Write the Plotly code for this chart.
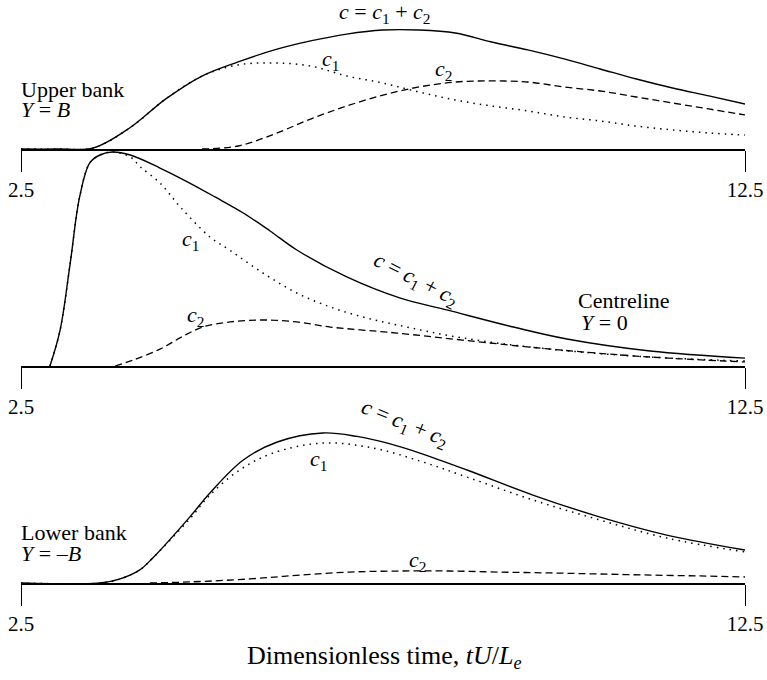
import plotly.graph_objects as go

# ---------------- data (relative concentration, centreline peak = 1) ----------------
# Upper bank, Y = B
t_up = [2.5, 3.0, 3.5, 4.0, 4.5, 5.0, 5.5, 6.0, 6.5, 7.0, 7.5, 8.0, 8.5, 9.0, 9.5, 10.0, 10.5, 11.0, 11.5, 12.0, 12.5]
c_up = [0, 0, 0.005, 0.098, 0.234, 0.341, 0.407, 0.463, 0.505, 0.537, 0.556, 0.556, 0.542, 0.500, 0.463, 0.421, 0.374, 0.327, 0.285, 0.248, 0.210]
c1_up = [0, 0, 0.005, 0.098, 0.234, 0.341, 0.393, 0.402, 0.388, 0.341, 0.308, 0.266, 0.229, 0.201, 0.178, 0.150, 0.131, 0.107, 0.089, 0.075, 0.065]
t2_up = [5.0, 5.5, 6.0, 6.5, 7.0, 7.5, 8.0, 8.5, 9.0, 9.5, 10.0, 10.5, 11.0, 11.5, 12.0, 12.5]
c2_up = [0, 0.014, 0.070, 0.140, 0.201, 0.252, 0.290, 0.313, 0.318, 0.313, 0.290, 0.271, 0.243, 0.215, 0.187, 0.159]

# Centreline, Y = 0
t_mid = [2.90, 3.04, 3.18, 3.31, 3.45, 3.59, 3.76, 4.01, 4.42, 4.83, 5.18, 5.57, 5.94, 6.31, 7.00, 7.73, 8.38, 9.30, 10.04, 11.19, 12.5]
c_mid = [0, 0.168, 0.481, 0.790, 0.949, 0.986, 1.0, 0.986, 0.925, 0.855, 0.790, 0.715, 0.631, 0.542, 0.416, 0.318, 0.262, 0.182, 0.126, 0.070, 0.037]
t1_mid = [2.90, 3.04, 3.18, 3.31, 3.45, 3.59, 3.76, 4.01, 4.15, 4.42, 4.70, 5.11, 5.38, 5.84, 6.31, 6.77, 7.22, 7.69, 8.60, 9.80, 11.18, 12.5]
c1_mid = [0, 0.168, 0.481, 0.790, 0.949, 0.986, 1.0, 0.977, 0.930, 0.855, 0.743, 0.603, 0.542, 0.435, 0.341, 0.276, 0.229, 0.192, 0.131, 0.079, 0.042, 0.023]
t2_mid = [3.80, 4.05, 4.42, 4.72, 5.01, 5.39, 5.84, 6.31, 6.77, 7.22, 7.69, 8.60, 9.81, 11.19, 12.5]
c2_mid = [0, 0.028, 0.079, 0.136, 0.182, 0.206, 0.215, 0.206, 0.182, 0.168, 0.154, 0.121, 0.079, 0.042, 0.019]

# Lower bank, Y = -B
t_low = [2.5, 3.59, 3.87, 4.14, 4.32, 4.83, 5.11, 5.57, 6.04, 6.67, 7.14, 7.60, 8.01, 8.66, 9.57, 10.50, 11.42, 12.5]
c_low = [0, 0, 0.019, 0.061, 0.117, 0.308, 0.421, 0.575, 0.659, 0.701, 0.685, 0.650, 0.607, 0.528, 0.411, 0.308, 0.224, 0.154]
t1_low = [2.5, 3.59, 3.87, 4.14, 4.32, 4.83, 5.11, 5.52, 5.98, 6.67, 7.36, 8.01, 8.66, 9.57, 10.5, 11.42, 12.5]
c1_low = [0, 0, 0.019, 0.061, 0.117, 0.299, 0.411, 0.528, 0.607, 0.654, 0.631, 0.570, 0.495, 0.388, 0.294, 0.210, 0.145]
t2_low = [4.28, 4.83, 5.66, 6.35, 7.04, 7.73, 8.43, 9.12, 9.81, 10.5, 11.19, 11.88, 12.5]
c2_low = [0, 0.005, 0.019, 0.037, 0.051, 0.056, 0.056, 0.051, 0.047, 0.042, 0.037, 0.033, 0.028]

x_ticks = [2.5, 12.5]
x_ticktext = ["2.5", "12.5"]

# ---------------- figure ----------------
W, H = 767, 680
L, R = 21, 745
FONT = "Liberation Serif"
fig = go.Figure()

SOLID = dict(color="black", width=1.4)
DOT = dict(color="black", width=1.5, dash="1.5px,5px")
DASH = dict(color="black", width=1.3, dash="7px,4px")


def add(xs, ys, style, xa, ya):
    line = dict(style)
    line.update(shape="spline", smoothing=1.0)
    fig.add_trace(go.Scatter(x=xs, y=ys, mode="lines", line=line,
                             xaxis=xa, yaxis=ya, hoverinfo="skip", showlegend=False))


add(t2_up, c2_up, DASH, "x", "y")
add(t_up, c1_up, DOT, "x", "y")
add(t_up, c_up, SOLID, "x", "y")

add(t2_mid, c2_mid, DASH, "x2", "y2")
add(t1_mid, c1_mid, DOT, "x2", "y2")
add(t_mid, c_mid, SOLID, "x2", "y2")

add(t2_low, c2_low, DASH, "x3", "y3")
add(t1_low, c1_low, DOT, "x3", "y3")
add(t_low, c_low, SOLID, "x3", "y3")

SCALE = 214.0  # px per unit (layout)


def ydom(base_px, top_px):
    return [(H - base_px) / H, (H - top_px) / H]


xcommon = dict(range=[2.5, 12.5], showline=True, linecolor="black", linewidth=1.5,
               ticks="outside", ticklen=21, tickwidth=1.2, tickcolor="black",
               tickvals=x_ticks, ticktext=x_ticktext, showgrid=False, zeroline=False,
               tickfont=dict(family=FONT, size=21, color="black"), fixedrange=True)
ycommon = dict(visible=False, showgrid=False, zeroline=False, fixedrange=True)

panels = [(149, 5), (366, 149), (583, 400)]
for i, (b, tp) in enumerate(panels):
    sfx = "" if i == 0 else str(i + 1)
    fig.layout["xaxis" + sfx] = dict(xcommon, anchor="y" + sfx, domain=[0, 1])
    fig.layout["yaxis" + sfx] = dict(ycommon, domain=ydom(b, tp), range=[0, (b - tp) / SCALE],
                                     anchor="x" + sfx)


def px(x):
    return (x - L) / (R - L)


def py(y):
    return (H - y) / H


C1 = "<i>c</i><sub>1</sub>"
C2 = "<i>c</i><sub>2</sub>"
CSUM = "<i>c</i> = <i>c</i><sub>1</sub> + <i>c</i><sub>2</sub>"

ann = []


def note(text, x, y, size=21, anchor="center", angle=0):
    ann.append(dict(text=text, x=px(x), y=py(y), xref="paper", yref="paper",
                    showarrow=False, xanchor=anchor, yanchor="middle", textangle=angle,
                    font=dict(family=FONT, size=size, color="black")))


# upper
note(CSUM, 385, 13, 22)
note(C1, 330, 60, 22)
note(C2, 443, 70, 22)
note("Upper bank", 19, 90, 22, "left")
note("<i>Y</i> = <i>B</i>", 19, 110, 22, "left")
# middle
note(C1, 190, 240, 22)
note(C2, 195, 316, 22)
note(CSUM, 416, 280, 22, "center", 27)
note("Centreline", 576, 300, 22, "left")
note("<i>Y</i> = 0", 579, 322, 22, "left")
# lower
note(CSUM, 405, 424, 22, "center", 22)
note(C1, 318, 460, 22)
note(C2, 417, 561, 22)
note("Lower bank", 19, 532, 22, "left")
note("<i>Y</i> = –<i>B</i>", 19, 553, 22, "left")
# axis title
note("Dimensionless time, <i>tU</i>/<i>L<sub>e</sub></i>", 384, 657, 26)

fig.update_layout(width=W, height=H, margin=dict(l=L, r=W - R, t=0, b=0, pad=0),
                  paper_bgcolor="white", plot_bgcolor="white", annotations=ann,
                  showlegend=False)

fig.write_html("out.html", config={"displayModeBar": False})
